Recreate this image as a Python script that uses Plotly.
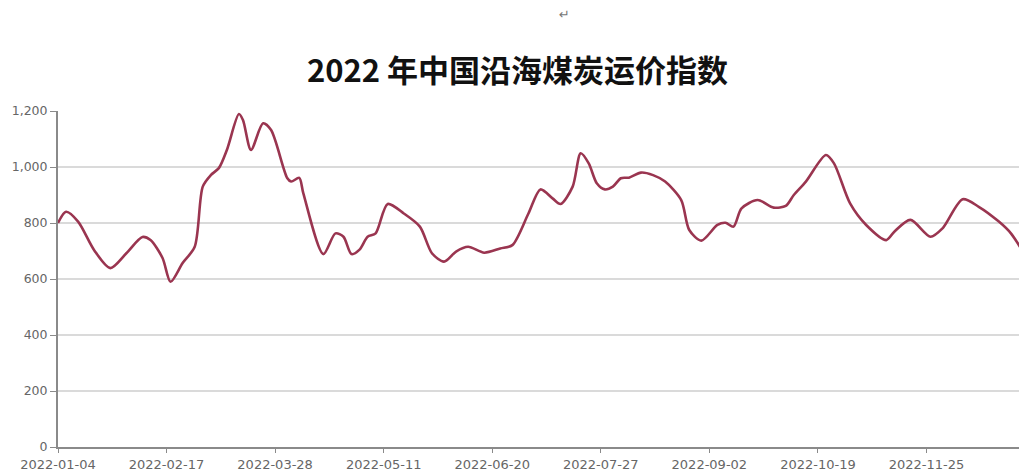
import plotly.graph_objects as go

# Trading-day index along the year and index value
day_index = [0, 2, 5, 9, 13, 17, 21, 23, 26, 28, 31, 34, 36, 38, 40, 42, 45, 46, 48, 51,
             53, 57, 58, 60, 61, 66, 69, 71, 73, 75, 77, 79, 82, 86, 90, 93, 96, 99, 102,
             106, 110, 113, 117, 120, 123, 125, 128, 130, 132, 134, 136, 138, 140, 142,
             145, 148, 151, 155, 157, 160, 164, 166, 168, 170, 174, 178, 181, 183, 186,
             191, 193, 197, 201, 206, 208, 212, 217, 220, 225, 229, 234, 237, 241]
index_value = [800, 840, 805, 703, 639, 692, 750, 739, 675, 590, 657, 715, 930, 971, 996,
               1061, 1189, 1168, 1061, 1156, 1132, 961, 948, 961, 907, 689, 763, 751, 689,
               705, 751, 763, 868, 834, 787, 692, 662, 698, 715, 694, 709, 721, 834, 920,
               888, 868, 930, 1049, 1013, 942, 920, 930, 960, 962, 980, 971, 948, 882, 775,
               737, 793, 801, 787, 852, 882, 855, 861, 900, 948, 1043, 1013, 870, 793, 739,
               769, 811, 751, 781, 885, 858, 805, 763, 674]

tick_pos = [0, 27, 54, 81, 108, 135, 162, 189, 216]
tick_labels = ["2022-01-04", "2022-02-17", "2022-03-28", "2022-05-11", "2022-06-20",
               "2022-07-27", "2022-09-02", "2022-10-19", "2022-11-25"]
y_ticks = [0, 200, 400, 600, 800, 1000, 1200]

fig = go.Figure()
fig.add_trace(go.Scatter(
    x=day_index, y=index_value, mode="lines",
    line=dict(color="#9A3550", width=2.6, shape="spline", smoothing=0.8),
    hoverinfo="y", showlegend=False,
))

fig.update_layout(
    width=1019, height=466,
    margin=dict(l=50, r=0, t=103, b=27),
    paper_bgcolor="white", plot_bgcolor="white",
    title=dict(
        text="<b>2022 年中国沿海煤炭运价指数</b>",
        x=0.5, xanchor="center", y=0.865, yanchor="middle",
        font=dict(family="Noto Sans CJK SC", size=31, color="#111111"),
    ),
    font=dict(family="DejaVu Sans", size=12, color="#666666"),
    annotations=[dict(text="↵", x=0.523, y=1.286, xref="paper", yref="paper",
                      xanchor="center", yanchor="middle", showarrow=False,
                      font=dict(size=13, color="#777777"))],
)
fig.update_xaxes(
    range=[0, 241], tickmode="array", tickvals=tick_pos, ticktext=tick_labels,
    showgrid=False, showline=True, linecolor="#8a8a8a", linewidth=2,
    ticks="outside", ticklen=4, tickcolor="#8a8a8a",
    tickfont=dict(family="DejaVu Sans", size=13, color="#666666"), zeroline=False,
)
fig.update_yaxes(
    range=[0, 1200], tickmode="array", tickvals=y_ticks, tickformat=",",
    showgrid=True, gridcolor="#dadada", gridwidth=2,
    showline=True, linecolor="#8a8a8a", linewidth=2,
    ticks="outside", ticklen=6, tickcolor="#8a8a8a",
    tickfont=dict(family="DejaVu Sans", size=12.5, color="#666666"), zeroline=False,
)
fig.write_html("out.html")
